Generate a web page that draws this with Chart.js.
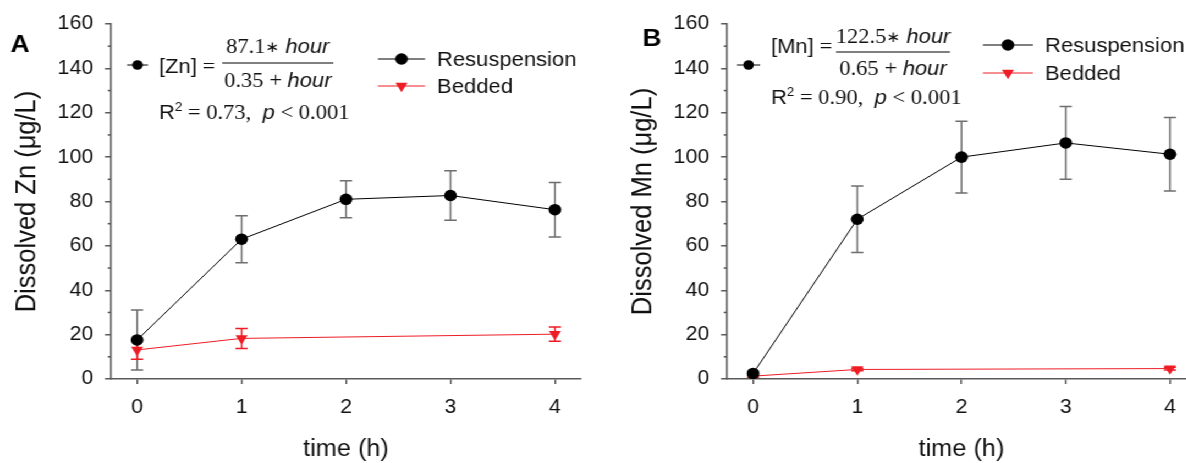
<!DOCTYPE html>
<html lang="en">
<head>
<meta charset="UTF-8">
<title>Dissolved Zn and Mn</title>
<script src="https://cdn.jsdelivr.net/npm/chart.js"></script>
<style>
  html, body { margin: 0; padding: 0; background: #fff; overflow: hidden; width: 1186px; height: 463px; }
  /* the figure is drawn slightly narrow and stretched sideways */
  #figure { position: absolute; left: 0; top: 0; width: 1100px; height: 463px; transform: scaleX(1.1); transform-origin: 0 0; }
  #figure canvas { position: absolute; top: 0; }
  #panelA { left: 0; }
  #panelB { left: 545px; }
</style>
</head>
<body>
<div id="figure">
  <canvas id="panelA" width="540" height="463"></canvas>
  <canvas id="panelB" width="560" height="463"></canvas>
</div>
<script>
// sampling times (h)
const hours = [0, 1, 2, 3, 4];
const beddedHours = [0, 1, 4];
const xTicks = [0, 1, 2, 3, 4];
const yTicks = [0, 20, 40, 60, 80, 100, 120, 140, 160];
const yMinorTicks = [10, 30, 50, 70, 90, 110, 130, 150];

// dissolved Zn (ug/L), mean and error
const znResus = [17.6, 63.0, 81.0, 82.7, 76.3];
const znResusErr = [13.5, 10.6, 8.3, 11.2, 12.3];
const znBedded = [13.1, 18.3, 20.2];
const znBeddedErr = [4.2, 4.5, 3.2];

// dissolved Mn (ug/L), mean and error
const mnResus = [2.5, 72.0, 100.0, 106.4, 101.3];
const mnResusErr = [0.8, 15.0, 16.2, 16.4, 16.6];
const mnBedded = [1.3, 4.3, 4.7];
const mnBeddedErr = [0.5, 0.6, 0.6];

// saturation fits shown on each panel
const znFit = ['87.1', '0.35', '0.73'];
const mnFit = ['122.5', '0.65', '0.90'];

const AXIS = '#5a5a5a';
const INK = '#111';
const RED = '#ee1c25';
const SANS = '20px "Liberation Sans", Arial, sans-serif';
const SANS_I = 'italic 20px "Liberation Sans", Arial, sans-serif';
const SERIF = '20.5px "Liberation Serif", "Times New Roman", serif';
const STAR = '15px "DejaVu Sans", sans-serif';
const SUP = '12px "Liberation Sans", Arial, sans-serif';

Chart.defaults.font.family = '"Liberation Sans", Arial, sans-serif';
Chart.defaults.color = INK;

// vertical error bars with caps, drawn under the markers
const errorBars = {
  id: 'errorBars',
  beforeDatasetsDraw(chart) {
    const ctx = chart.ctx, xs = chart.scales.x, ys = chart.scales.y;
    chart.data.datasets.forEach(ds => {
      ctx.save();
      ctx.strokeStyle = ds.errorColor;
      ctx.lineWidth = 1.5;
      ds.data.forEach((p, i) => {
        const px = xs.getPixelForValue(p.x);
        const top = ys.getPixelForValue(p.y + ds.errors[i]);
        const bot = ys.getPixelForValue(p.y - ds.errors[i]);
        ctx.beginPath();
        ctx.moveTo(px, top); ctx.lineTo(px, bot);
        ctx.moveTo(px - 5.5, top); ctx.lineTo(px + 5.5, top);
        ctx.moveTo(px - 5.5, bot); ctx.lineTo(px + 5.5, bot);
        ctx.stroke();
      });
      ctx.restore();
    });
  }
};

// text made of pieces in different fonts
function runs(ctx, parts, x, y, align) {
  let w = 0;
  parts.forEach(p => { ctx.font = p[1]; w += ctx.measureText(p[0]).width; });
  let cx = align === 'center' ? x - w / 2 : x;
  parts.forEach(p => {
    ctx.font = p[1];
    ctx.fillText(p[0], cx, y + (p[2] || 0));
    cx += ctx.measureText(p[0]).width;
  });
}

function dot(ctx, x, y, r) {
  ctx.beginPath(); ctx.arc(x, y, r, 0, Math.PI * 2); ctx.fill();
}

function downTriangle(ctx, x, y, r) {
  ctx.beginPath();
  ctx.moveTo(x, y + r);
  ctx.lineTo(x - r * 0.866, y - r / 2);
  ctx.lineTo(x + r * 0.866, y - r / 2);
  ctx.closePath(); ctx.fill();
}

// panel letter, minor ticks, fit equation and legend
function notes(n) {
  return {
    id: 'notes',
    afterDraw(chart) {
      const ctx = chart.ctx, ys = chart.scales.y;
      ctx.save();
      ctx.strokeStyle = AXIS; ctx.lineWidth = 1.5;
      yMinorTicks.forEach(v => {
        const py = ys.getPixelForValue(v);
        ctx.beginPath(); ctx.moveTo(ys.right - 3, py); ctx.lineTo(ys.right, py); ctx.stroke();
      });

      ctx.fillStyle = '#000';
      ctx.textBaseline = 'middle'; ctx.textAlign = 'center';
      ctx.font = 'bold 24px "Liberation Sans", Arial, sans-serif';
      ctx.fillText(n.letter, n.letterX, n.letterY);

      ctx.textAlign = 'left'; ctx.textBaseline = 'alphabetic';
      // fit line sample
      ctx.strokeStyle = '#000'; ctx.lineWidth = 1;
      ctx.beginPath(); ctx.moveTo(n.markX1, n.markY); ctx.lineTo(n.markX2, n.markY); ctx.stroke();
      dot(ctx, (n.markX1 + n.markX2) / 2, n.markY, 4.8);

      ctx.fillStyle = INK;
      runs(ctx, [[n.ion, SANS], [' =', SERIF]], n.eqX, n.eqBase, 'left');
      ctx.beginPath(); ctx.moveTo(n.barX1, n.barY); ctx.lineTo(n.barX2, n.barY); ctx.stroke();
      const mid = (n.barX1 + n.barX2) / 2;
      runs(ctx, [[n.fit[0], SERIF], ['\u2217', STAR, -1], [' hour', SANS_I]], mid, n.numBase, 'center');
      runs(ctx, [[n.fit[1], SERIF], [' + ', SERIF], ['hour', SANS_I]], mid, n.denBase, 'center');
      runs(ctx, [['R', SANS], ['2', SUP, -8], [' = ' + n.fit[2] + ',  ', SERIF], ['p', SANS_I], [' < 0.001', SERIF]],
        n.eqX, n.r2Base, 'left');

      // legend
      chart.data.datasets.forEach((ds, i) => {
        const ly = n.legY[i];
        ctx.strokeStyle = ds.borderColor; ctx.lineWidth = 1;
        ctx.beginPath(); ctx.moveTo(n.legX1, ly); ctx.lineTo(n.legX2, ly); ctx.stroke();
        ctx.fillStyle = ds.pointBackgroundColor;
        const mx = (n.legX1 + n.legX2) / 2;
        if (i === 0) dot(ctx, mx, ly, 5.8); else downTriangle(ctx, mx, ly, 6.3);
        ctx.fillStyle = INK; ctx.font = SANS;
        ctx.fillText(ds.label, n.legText, ly + 7);
      });
      ctx.restore();
    }
  };
}

function makePanel(id, p) {
  return new Chart(document.getElementById(id), {
    type: 'line',
    data: {
      datasets: [{
        label: 'Resuspension',
        data: hours.map((h, i) => ({ x: h, y: p.resus[i] })),
        errors: p.resusErr, errorColor: '#6e6e6e',
        borderColor: '#000', borderWidth: 1,
        pointStyle: 'circle', pointRadius: 5.8, pointBorderWidth: 0,
        pointBackgroundColor: '#000', pointBorderColor: '#000'
      }, {
        label: 'Bedded',
        data: beddedHours.map((h, i) => ({ x: h, y: p.bedded[i] })),
        errors: p.beddedErr, errorColor: RED,
        borderColor: RED, borderWidth: 1,
        pointStyle: 'triangle', pointRotation: 180, pointRadius: 6.3, pointBorderWidth: 0,
        pointBackgroundColor: RED, pointBorderColor: RED
      }]
    },
    options: {
      responsive: false,
      animation: false,
      events: [],
      layout: { padding: { top: 24, left: 0, right: p.padRight, bottom: 0 } },
      plugins: { legend: { display: false }, tooltip: { enabled: false } },
      scales: {
        x: {
          type: 'linear', min: -0.25, max: 4.25,
          afterBuildTicks: s => { s.ticks = xTicks.map(v => ({ value: v })); },
          afterFit: s => { s.height = 84; },
          ticks: { font: { size: 19.5 }, color: INK, padding: 12 },
          grid: { drawOnChartArea: false, tickLength: 5, color: AXIS, lineWidth: 1.5 },
          border: { color: AXIS, width: 1.5 },
          title: { display: true, text: 'time (h)', font: { size: 23 }, color: INK, padding: { top: 0, bottom: 0 } }
        },
        y: {
          type: 'linear', min: 0, max: 160,
          afterBuildTicks: s => { s.ticks = yTicks.map(v => ({ value: v })); },
          afterFit: s => { s.width = p.yWidth; },
          ticks: { font: { size: 19.5 }, color: INK, padding: p.yTickPad },
          grid: { drawOnChartArea: false, tickLength: 5.5, color: AXIS, lineWidth: 1.5 },
          border: { color: AXIS, width: 1.5 },
          title: { display: true, text: p.yTitle, font: { size: 25.5 }, color: INK, padding: { top: p.yTitlePad, bottom: 0 } }
        }
      }
    },
    plugins: [errorBars, notes(p.notes)]
  });
}

makePanel('panelA', {
  resus: znResus, resusErr: znResusErr, bedded: znBedded, beddedErr: znBeddedErr,
  yTitle: 'Dissolved Zn (\u03bcg/L)', yWidth: 100.9, yTickPad: 10.5, yTitlePad: 9.5, padRight: 11.8,
  notes: {
    letter: 'A', letterX: 18.2, letterY: 45,
    markX1: 115.5, markX2: 134.5, markY: 65,
    ion: '[Zn]', fit: znFit, eqX: 144.5, eqBase: 72.5,
    barX1: 202, barX2: 303, barY: 63, numBase: 52.5, denBase: 86.5, r2Base: 118.5,
    legX1: 343.6, legX2: 386.4, legText: 397.3, legY: [59, 86]
  }
});

makePanel('panelB', {
  resus: mnResus, resusErr: mnResusErr, bedded: mnBedded, beddedErr: mnBeddedErr,
  yTitle: 'Dissolved Mn (\u03bcg/L)', yWidth: 115.9, yTickPad: 10.5, yTitlePad: 24.5, padRight: 17.7,
  notes: {
    letter: 'B', letterX: 47.7, letterY: 39,
    markX1: 125, markX2: 146, markY: 65,
    ion: '[Mn]', fit: mnFit, eqX: 155.9, eqBase: 52.5,
    barX1: 215, barX2: 318.6, barY: 52, numBase: 42.5, denBase: 74.5, r2Base: 103.5,
    legX1: 348.6, legX2: 394, legText: 405, legY: [45, 73]
  }
});
</script>
</body>
</html>
